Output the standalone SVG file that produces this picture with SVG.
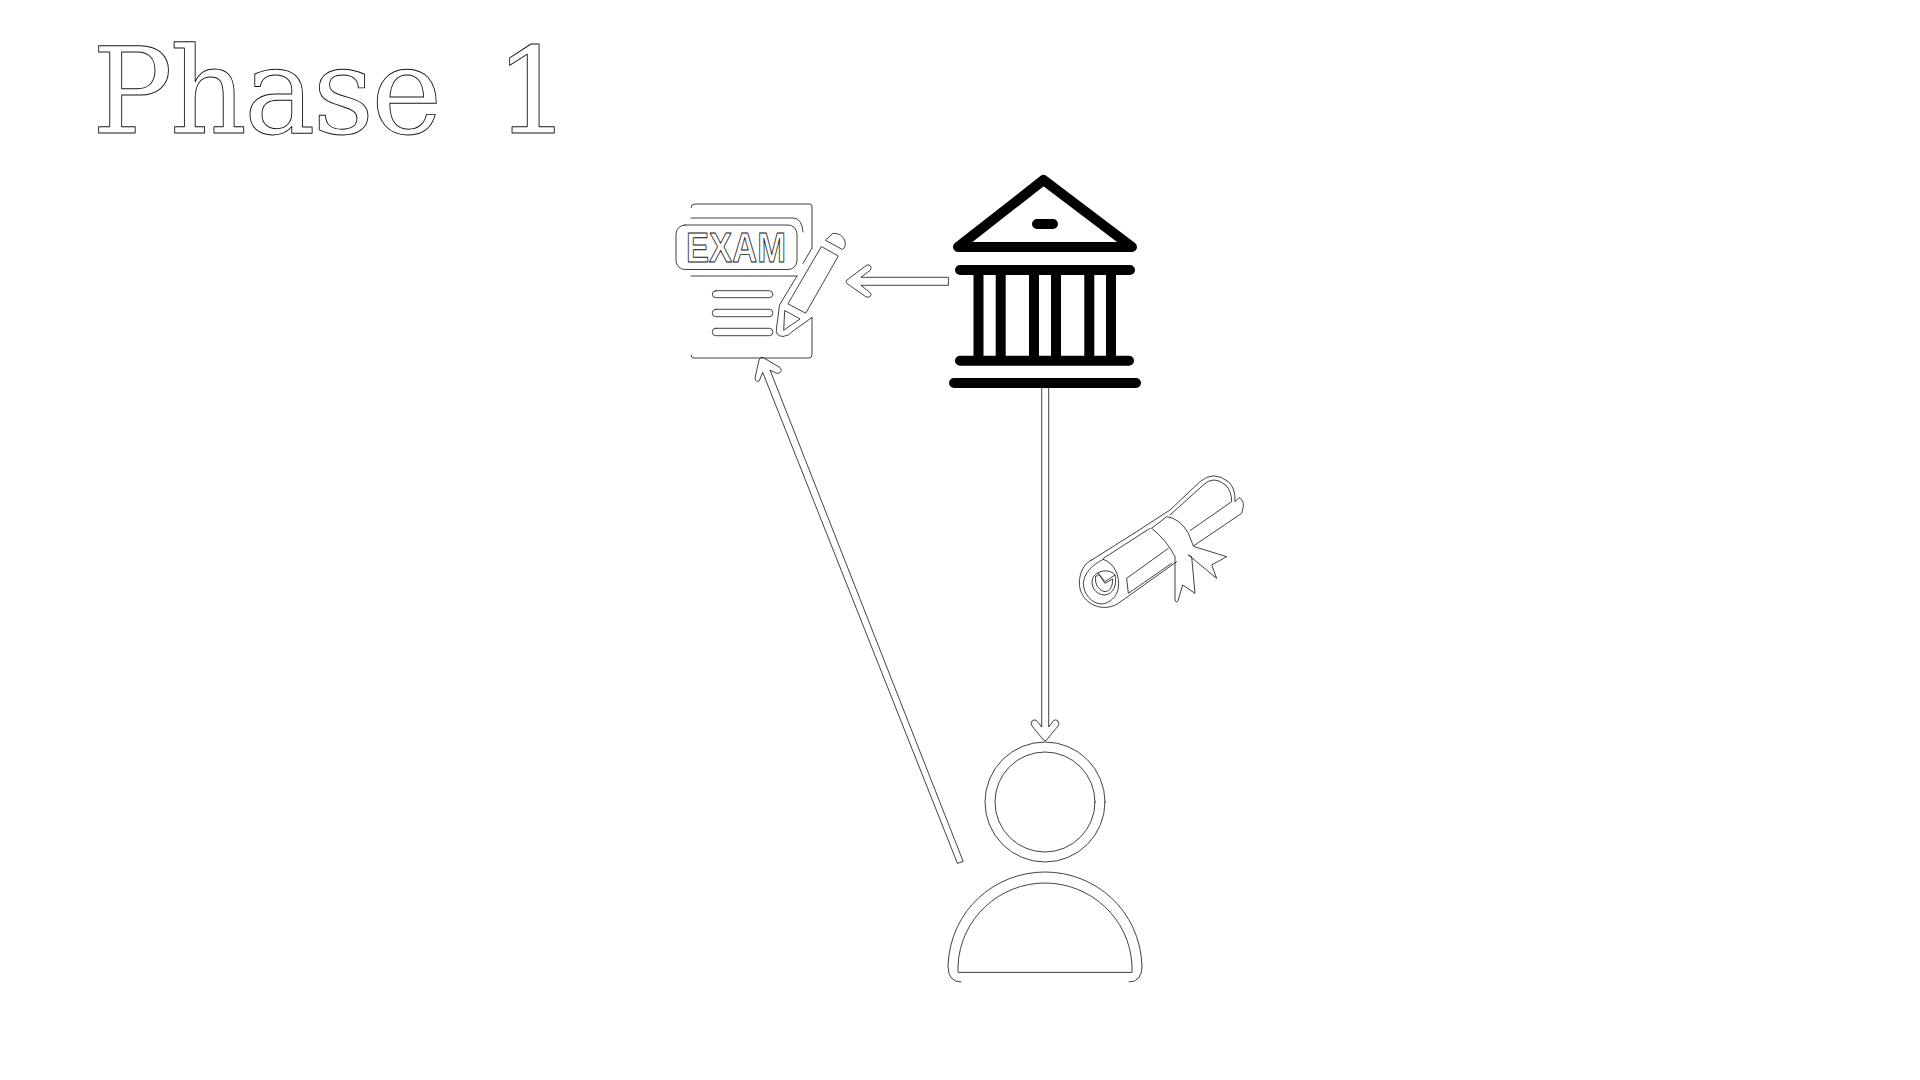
<svg xmlns="http://www.w3.org/2000/svg" width="1920" height="1080" viewBox="0 0 1920 1080">
<style>
.o{fill:none;stroke:#111;stroke-width:.8;stroke-linejoin:round;stroke-linecap:round}
.b{fill:none;stroke:#000;stroke-width:10;stroke-linecap:round;stroke-linejoin:round}
.t{font-family:"DejaVu Serif",serif;fill:#fff;stroke:#111;stroke-width:.9;stroke-linejoin:round}
.x{font-family:"Liberation Sans",sans-serif;font-weight:700;fill:#fff;stroke:#111;stroke-width:.9;stroke-linejoin:round;opacity:.999}
</style>
<rect width="1920" height="1080" fill="#fff"/>
<text id="title" class="t" x="92" y="133" font-size="120" letter-spacing="-3">Phase <tspan x="495" letter-spacing="0">1</tspan></text>
<g id="connectors" class="o">
<path d="M948,277.300H861L870.500,270Q872,266 869,265Q867,264.500 865.500,266L847,280Q845,281.500 847,283.500L865.500,296.500Q868,298 870,296.500Q872,294 870.500,293L861,285.300H948Z"/>
<path d="M1041.700,388V727L1036.500,720.500Q1034,719 1032,721Q1030,723.500 1032,726L1043.500,740Q1045,741.500 1046.500,740L1058,726Q1060,723.500 1058,721Q1056,719 1053.500,720.500L1048.700,727V388Z"/>
<path d="M957.300,863L762.700,372.300L759.300,380.700Q756.500,383 755,378.300L759,360Q760.500,356 763,357.500L780,367.500Q783,371 779,373Q776,374 774,372L770,370L963,861Z"/>
</g>
<g id="exam" class="o">
<path d="M691,207.500Q691,204 695,204H810Q812,204 812,207V248M691,218H793Q802,218 803,232M691,276H797"/>
<rect x="676" y="225" width="121" height="44.500" rx="9" fill="#fff"/>
<text class="x" x="686" y="262" font-size="42" textLength="100" lengthAdjust="spacingAndGlyphs">EXAM</text>
<rect x="712.300" y="290.700" width="60.500" height="7" rx="3.500"/>
<rect x="712.300" y="309.300" width="60.500" height="7.400" rx="3.500"/>
<rect x="712.300" y="328.300" width="60.500" height="7.400" rx="3.500"/>
<path d="M803,263.500L812,248M812,317.500V355Q812,358 809,358H694Q691,358 691,355"/>
<path d="M797,276L779.500,305L776.500,328Q775,336 783,336.500Q789,336 793,331L812,317.500"/>
<path d="M821.700,246.700L838.300,256L805.700,313.300L788.300,304Z"/>
<path d="M825.700,240L833,233.300Q842,233 845,241Q846,248 842.700,249.300Z"/>
<path d="M785,310.700L800,319L784,330Z"/>
</g>
<g id="bank" class="b">
<path d="M1043.500,180L958,247H1132Z"/>
<path d="M1037,224H1053M960,270H1130M960,360.700H1129M954,383H1136"/>
<path d="M978.500,270V360M1000.700,270V360M1034,270V360M1056,270V360M1089.300,270V360M1111,270V360" stroke-linecap="butt"/>
</g>
<g id="diploma" class="o" transform="translate(1060 460) scale(.33333)" style="stroke-width:2.400">
<path d="M95,300L230,215L330,150L420,65Q460,30 505,65Q527,85 525,125L537,113Q552,120 550,140L545,160L400,258"/>
<path d="M130,295L270,205M330,165L430,75Q460,45 497,75Q515,95 515,125L390,212"/>
<path d="M275,205L320,170Q360,175 385,220L400,258M275,205Q320,240 345,290"/>
<path d="M325,265L200,355L205,400L335,310"/>
<path d="M95,300C60,315 50,370 65,400C85,440 135,455 175,430L350,305"/>
<path d="M130,298C165,310 180,350 175,385C170,410 150,430 125,432C95,432 70,400 70,370C72,340 95,315 130,298"/>
<path d="M165,345C150,325 115,330 100,350C88,375 105,405 135,405C160,402 172,375 165,345L135,365L115,340"/>
<path d="M107,350C103,370 115,392 135,395C150,394 158,380 158,357L135,370L118,345Q112,342 107,350Z"/>
<path d="M345,292V420Q350,432 354,422L368,375L405,400L395,290L385,285L470,355L455,315L500,290L403,260"/>
</g>
<g id="person" class="o">
<circle cx="1045" cy="802" r="60"/>
<circle cx="1045" cy="802" r="50"/>
<path d="M961,982Q948,982 948,966C950,910 995,872 1045,872C1095,872 1140,910 1142,966Q1142,982 1129,982"/>
<path d="M958,972V966C960,918 1000,883 1045,883C1090,883 1130,918 1132,966V972Z"/>
</g>
</svg>
